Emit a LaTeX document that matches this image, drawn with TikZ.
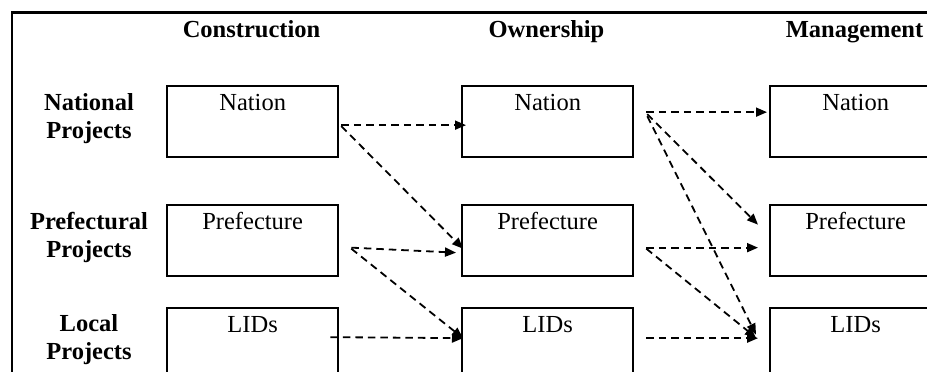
\documentclass[tikz,border=0pt]{standalone}
\usepackage{fontspec}
\setmainfont{Liberation Serif}
\usetikzlibrary{calc,arrows.meta}

\tikzset{
  stagebox/.style={draw, line width=2.3pt, minimum width=171pt, minimum height=71pt,
                   anchor=north west, inner sep=0pt},
  boxtext/.style={anchor=base, inner sep=0pt, font=\fontsize{24.5}{28}\selectfont},
  headtext/.style={anchor=base, inner sep=0pt, font=\fontsize{24.5}{28}\selectfont\bfseries},
  flow/.style={line width=1.8pt, dash pattern=on 7.5pt off 5pt,
               -{Triangle[length=11pt,width=9pt]}},
  frameline/.style={line width=2.3pt}
}

\begin{document}
\begin{tikzpicture}[x=1pt,y=-1pt]
  \useasboundingbox (0,0) rectangle (927,372);
  \clip (0,0) rectangle (927,372);

  % outer frame (top and left sides)
  \draw[frameline] (12,380) -- (12,12.5) -- (940,12.5);

  % column headings
  \node[headtext] (hc) at (251.5,37) {Construction};
  \node[headtext] (ho) at (546.5,37) {Ownership};
  \node[headtext] (hm) at (854.5,37) {Management};

  % row headings
  \node[headtext] (r1a) at (89,110) {National};
  \node[headtext] (r1b) at (89,138.5) {Projects};
  \node[headtext] (r2a) at (89,229) {Prefectural};
  \node[headtext] (r2b) at (89,257.5) {Projects};
  \node[headtext] (r3a) at (89,331) {Local};
  \node[headtext] (r3b) at (89,359.5) {Projects};

  % boxes: construction (c), ownership (o), management (m)
  \node[stagebox] (c1) at (166,85) {};
  \node[stagebox] (c2) at (166,204) {};
  \node[stagebox] (c3) at (166,307) {};
  \node[stagebox] (o1) at (461,85) {};
  \node[stagebox] (o2) at (461,204) {};
  \node[stagebox] (o3) at (461,307) {};
  \node[stagebox] (m1) at (769,85) {};
  \node[stagebox] (m2) at (769,204) {};
  \node[stagebox] (m3) at (769,307) {};

  % box captions
  \foreach \b/\t in {c1/Nation,o1/Nation,m1/Nation,
                     c2/Prefecture,o2/Prefecture,m2/Prefecture,
                     c3/LIDs,o3/LIDs,m3/LIDs}
    \node[boxtext] (\b-t) at ($(\b.north)+(0,25)$) {\t};

  % connector end points
  \coordinate (c1a) at ($(c1.east)+(2,3.5)$);
  \coordinate (c1b) at ($(c1.east)+(2,4.5)$);
  \coordinate (c2a) at ($(c2.east)+(12,7)$);
  \coordinate (c2b) at ($(c2.east)+(12,8)$);
  \coordinate (c3a) at ($(c3.east)+(-9,-6.5)$);
  \coordinate (o1a) at ($(o1.east)+(12,-9.5)$);
  \coordinate (o1b) at ($(o1.east)+(13,-7.5)$);
  \coordinate (o1c) at ($(o1.east)+(13,-5.5)$);
  \coordinate (o2a) at ($(o2.east)+(12,7)$);
  \coordinate (o2b) at ($(o2.east)+(12,8)$);
  \coordinate (o3a) at ($(o3.east)+(12,-5.5)$);

  % construction -> ownership
  \draw[flow] (c1a) -- ($(o1.west)+(5,3.5)$);
  \draw[flow] (c1b) -- ($(o2.west)+(2,8)$);
  \draw[flow] (c2a) -- ($(o2.west)+(-5,12)$);
  \draw[flow] (c2b) -- ($(o3.west)+(2,-5.5)$);
  \draw[flow] (c3a) -- ($(o3.west)+(2,-5.5)$);

  % ownership -> management
  \draw[flow] (o1a) -- ($(m1.west)+(-2,-9.5)$);
  \draw[flow] (o1b) -- ($(m2.west)+(-11,-16)$);
  \draw[flow] (o1c) -- ($(m3.west)+(-13,-9)$);
  \draw[flow] (o2a) -- ($(m2.west)+(-11,7)$);
  \draw[flow] (o2b) -- ($(m3.west)+(-13,-6)$);
  \draw[flow] (o3a) -- ($(m3.west)+(-11,-5.5)$);
\end{tikzpicture}
\end{document}
